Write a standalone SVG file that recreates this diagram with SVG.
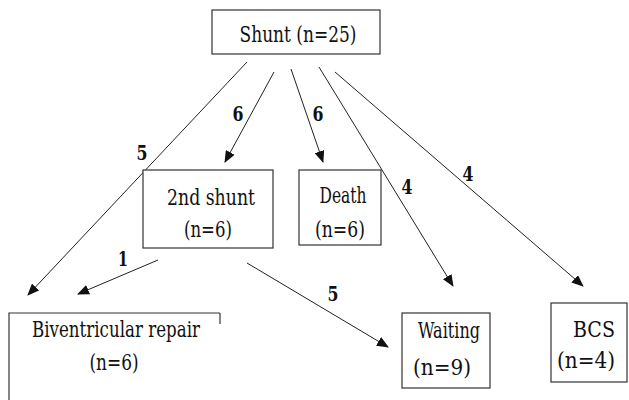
<svg xmlns="http://www.w3.org/2000/svg" width="629" height="400" viewBox="0 0 629 400">
<style>
.box{fill:#fff;stroke:#333;stroke-width:1.2}
.t{font-family:'DejaVu Serif','Liberation Serif',serif;font-size:23px;fill:#111;text-anchor:middle}
.lbl{font-family:'DejaVu Serif','Liberation Serif',serif;font-size:21px;font-weight:bold;fill:#111;text-anchor:middle}
.c{stroke:#222;stroke-width:1;fill:none;marker-end:url(#ah)}
</style>
<defs>
<marker id="ah" markerUnits="userSpaceOnUse" markerWidth="12" markerHeight="10" refX="11" refY="5" orient="auto">
<path d="M0,0 L12,5 L0,10 Z" fill="#111"/>
</marker>
</defs>
<rect width="629" height="400" fill="#fff"/>
<g id="connectors">
<line class="c" x1="247" y1="62" x2="28" y2="295"/>
<line class="c" x1="274" y1="72" x2="225" y2="162"/>
<line class="c" x1="291" y1="69" x2="323" y2="162"/>
<line class="c" x1="319" y1="67" x2="453" y2="286"/>
<line class="c" x1="335" y1="72" x2="583" y2="286"/>
<line class="c" x1="158" y1="260" x2="78" y2="294"/>
<line class="c" x1="247" y1="263" x2="388" y2="347"/>
<text class="lbl" x="142" y="160" textLength="11" lengthAdjust="spacingAndGlyphs">5</text>
<text class="lbl" x="238" y="121" textLength="11" lengthAdjust="spacingAndGlyphs">6</text>
<text class="lbl" x="318" y="121" textLength="11" lengthAdjust="spacingAndGlyphs">6</text>
<text class="lbl" x="407" y="194" textLength="11" lengthAdjust="spacingAndGlyphs">4</text>
<text class="lbl" x="468" y="181" textLength="11" lengthAdjust="spacingAndGlyphs">4</text>
<text class="lbl" x="123" y="266" textLength="10" lengthAdjust="spacingAndGlyphs">1</text>
<text class="lbl" x="333" y="301" textLength="11" lengthAdjust="spacingAndGlyphs">5</text>
</g>
<g id="shunt">
<rect class="box" x="212" y="10" width="168" height="44"/>
<text class="t" x="298" y="42" font-size="25" textLength="117" lengthAdjust="spacingAndGlyphs">Shunt (n=25)</text>
</g>
<g id="second-shunt">
<rect class="box" x="143" y="170" width="130" height="78"/>
<text class="t" x="211" y="205" textLength="88" lengthAdjust="spacingAndGlyphs">2nd shunt</text>
<text class="t" x="208" y="237" textLength="48" lengthAdjust="spacingAndGlyphs">(n=6)</text>
</g>
<g id="death">
<rect class="box" x="299" y="170" width="82" height="75"/>
<text class="t" x="343" y="203" textLength="47" lengthAdjust="spacingAndGlyphs">Death</text>
<text class="t" x="340" y="237" textLength="50" lengthAdjust="spacingAndGlyphs">(n=6)</text>
</g>
<g id="biventricular">
<path class="box" d="M220,313 H9 V400" fill="none"/>
<line x1="220" y1="313" x2="220" y2="324" stroke="#333" stroke-width="1.2"/>
<text class="t" x="116" y="337" textLength="168" lengthAdjust="spacingAndGlyphs">Biventricular  repair</text>
<text class="t" x="114" y="370" textLength="49" lengthAdjust="spacingAndGlyphs">(n=6)</text>
</g>
<g id="waiting">
<rect class="box" x="402" y="313" width="88" height="75"/>
<text class="t" x="449" y="338" textLength="62" lengthAdjust="spacingAndGlyphs">Waiting</text>
<text class="t" x="442" y="375" textLength="58" lengthAdjust="spacingAndGlyphs">(n=9)</text>
</g>
<g id="bcs">
<rect class="box" x="551" y="303" width="76" height="79"/>
<text class="t" x="594" y="337" textLength="42" lengthAdjust="spacingAndGlyphs">BCS</text>
<text class="t" x="586" y="368" textLength="58" lengthAdjust="spacingAndGlyphs">(n=4)</text>
</g>
</svg>
